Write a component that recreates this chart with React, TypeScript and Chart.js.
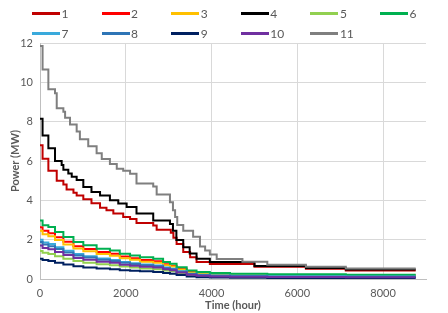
import React, { useEffect, useRef } from "react";
import { Chart, registerables } from "chart.js";

Chart.register(...registerables);

// ---- data ----
const seriesNames = ["1", "2", "3", "4", "5", "6", "7", "8", "9", "10", "11"];
const seriesColors = [
  "#C00000", "#FF0000", "#FFC000", "#000000", "#92D050", "#00B050",
  "#3AAADC", "#2E75B6", "#002060", "#7030A0", "#7F7F7F",
];

const xTicks = [0, 2000, 4000, 6000, 8000];
const yTicks = [0, 2, 4, 6, 8, 10, 12];

// series 11 (gray)
const s11Hours = [0, 60, 195, 350, 390, 545, 585, 700, 855, 930, 1125, 1320, 1440, 1630, 1790, 1940, 2100, 2250, 2640, 2720, 3030, 3100, 3150, 3200, 3340, 3570, 3730, 3850, 3960, 4120, 4720, 5300, 6200, 7130, 8760];
const s11Power = [11.85, 10.65, 9.65, 9.45, 8.68, 8.5, 8.2, 7.85, 7.5, 7.1, 6.75, 6.4, 6.1, 5.85, 5.6, 5.5, 5.35, 4.85, 4.7, 4.3, 3.9, 3.5, 3.15, 2.75, 2.45, 2.15, 1.65, 1.45, 1.25, 1.02, 0.88, 0.72, 0.62, 0.54, 0.54];

// series 4 (black)
const s4Hours = [0, 60, 195, 350, 505, 545, 660, 740, 855, 1010, 1200, 1400, 1630, 1825, 2020, 2250, 2640, 3030, 3100, 3180, 3340, 3490, 3650, 3960, 5000, 6200, 7130, 8760];
const s4Power = [8.15, 7.3, 6.65, 6.0, 5.8, 5.55, 5.37, 5.2, 5.03, 4.68, 4.43, 4.25, 4.0, 3.84, 3.66, 3.33, 2.98, 2.8, 2.45, 1.98, 1.62, 1.3, 1.03, 0.86, 0.66, 0.56, 0.48, 0.48];

// series 1 (dark red)
const s1Hours = [0, 60, 195, 390, 545, 620, 780, 855, 1010, 1200, 1400, 1550, 1710, 1940, 2100, 2250, 2640, 2720, 3050, 3110, 3185, 3340, 3500, 3650, 3960, 5000, 6200, 7130, 8760];
const s1Power = [6.8, 6.12, 5.5, 5.0, 4.8, 4.55, 4.38, 4.25, 4.05, 3.85, 3.62, 3.5, 3.33, 3.15, 3.05, 2.85, 2.72, 2.5, 2.35, 2.1, 1.78, 1.37, 1.11, 0.86, 0.76, 0.62, 0.52, 0.43, 0.43];

// low-power series share the same step hours
const lowHours = [0, 60, 195, 350, 545, 780, 1010, 1320, 1630, 1860, 2100, 2330, 2640, 2870, 3030, 3185, 3420, 3650, 3960, 4430, 5300, 7130, 8760];
const s2Power = [2.63, 2.45, 2.33, 2.12, 1.9, 1.67, 1.52, 1.37, 1.28, 1.14, 1.05, 0.96, 0.9, 0.75, 0.68, 0.52, 0.36, 0.29, 0.25, 0.22, 0.2, 0.18, 0.18];
const s3Power = [2.45, 2.28, 2.18, 1.98, 1.76, 1.55, 1.41, 1.27, 1.18, 1.06, 0.98, 0.88, 0.83, 0.7, 0.63, 0.48, 0.33, 0.26, 0.22, 0.2, 0.18, 0.16, 0.16];
const s5Power = [1.43, 1.33, 1.27, 1.16, 1.03, 0.91, 0.83, 0.75, 0.7, 0.63, 0.58, 0.54, 0.5, 0.43, 0.39, 0.3, 0.22, 0.18, 0.17, 0.16, 0.15, 0.14, 0.14];
const s6Power = [2.98, 2.73, 2.64, 2.39, 2.13, 1.88, 1.71, 1.54, 1.45, 1.29, 1.2, 1.11, 1.03, 0.86, 0.78, 0.6, 0.43, 0.35, 0.3, 0.27, 0.24, 0.21, 0.21];
const s7Power = [2.0, 1.86, 1.78, 1.62, 1.44, 1.27, 1.16, 1.04, 0.97, 0.87, 0.8, 0.74, 0.69, 0.58, 0.52, 0.4, 0.27, 0.21, 0.18, 0.16, 0.14, 0.13, 0.13];
const s8Power = [1.88, 1.75, 1.67, 1.52, 1.35, 1.19, 1.09, 0.98, 0.91, 0.82, 0.76, 0.7, 0.65, 0.55, 0.49, 0.37, 0.25, 0.19, 0.16, 0.14, 0.12, 0.11, 0.11];
const s9Power = [1.03, 0.96, 0.91, 0.83, 0.74, 0.65, 0.59, 0.53, 0.5, 0.45, 0.42, 0.39, 0.36, 0.3, 0.27, 0.2, 0.13, 0.09, 0.07, 0.06, 0.05, 0.05, 0.05];
const s10Power = [1.7, 1.58, 1.51, 1.37, 1.22, 1.07, 0.98, 0.88, 0.82, 0.73, 0.68, 0.62, 0.58, 0.49, 0.44, 0.33, 0.22, 0.16, 0.13, 0.11, 0.1, 0.09, 0.09];

const seriesHours = [s1Hours, lowHours, lowHours, s4Hours, lowHours, lowHours, lowHours, lowHours, lowHours, lowHours, s11Hours];
const seriesPower = [s1Power, s2Power, s3Power, s4Power, s5Power, s6Power, s7Power, s8Power, s9Power, s10Power, s11Power];

const FONT = "Lato, 'Open Sans', sans-serif";
const TEXT = "#595959";
const GRID = "#D9D9D9";

export default function App() {
  const canvasRef = useRef<HTMLCanvasElement | null>(null);

  useEffect(() => {
    const canvas = canvasRef.current;
    if (!canvas) return;
    const datasets = seriesNames.map((name, i) => ({
      label: name,
      data: seriesHours[i].map((h, k) => ({ x: h, y: seriesPower[i][k] })),
      borderColor: seriesColors[i],
      backgroundColor: seriesColors[i],
      borderWidth: 2,
      pointRadius: 0,
      stepped: "before" as const,
      fill: false,
      order: seriesNames.length - 1 - i,
    }));

    const chart = new Chart(canvas, {
      type: "line",
      data: { datasets },
      options: {
        animation: false,
        responsive: false,
        devicePixelRatio: 1,
        layout: { padding: { left: 6, right: 22, top: 43, bottom: 0 } },
        plugins: {
          legend: { display: false },
          tooltip: { enabled: false },
        },
        scales: {
          x: {
            type: "linear",
            min: 0,
            max: 9000,
            afterBuildTicks: (scale: any) => {
              scale.ticks = xTicks.map((v) => ({ value: v }));
            },
            afterFit: (scale: any) => {
              scale.height = 34;
            },
            grid: {
              color: (ctx: any) =>
                ctx.tick && xTicks.includes(ctx.tick.value) ? GRID : "rgba(0,0,0,0)",
              drawTicks: false,
              lineWidth: 1,
            },
            border: { color: "#BFBFBF", width: 1 },
            ticks: {
              color: TEXT,
              font: { family: FONT, size: 11 },
              padding: 8,
              maxRotation: 0,
              callback: (v: any) => String(v),
            },
            title: {
              display: true,
              text: "Time (hour)",
              color: TEXT,
              font: { family: FONT, size: 11, weight: "bold" },
              padding: { top: 0, bottom: 1 },
            },
          },
          y: {
            type: "linear",
            min: 0,
            max: 12,
            afterBuildTicks: (scale: any) => {
              scale.ticks = yTicks.map((v) => ({ value: v }));
            },
            afterFit: (scale: any) => {
              scale.width = 34;
            },
            grid: { color: GRID, drawTicks: false, lineWidth: 1 },
            border: { color: "#BFBFBF", width: 1 },
            ticks: {
              color: TEXT,
              font: { family: FONT, size: 11 },
              padding: 7,
              callback: (v: any) => String(v),
            },
            title: {
              display: true,
              text: "Power (MW)",
              color: TEXT,
              font: { family: FONT, size: 11, weight: "bold" },
              padding: { top: 3, bottom: 0 },
            },
          },
        },
      },
    });
    return () => chart.destroy();
  }, []);

  const legendItems = seriesNames.map((name, i) => {
    const col = i % 6;
    const row = Math.floor(i / 6);
    const left = 32 + col * 69.6;
    const cy = row === 0 ? 13.5 : 33.5;
    return (
      <div key={name}>
        <div
          style={{
            position: "absolute",
            left,
            top: cy - 1.5,
            width: 28,
            height: 3,
            background: seriesColors[i],
          }}
        />
        <div
          style={{
            position: "absolute",
            left: left + 29.5,
            top: cy - 8,
            height: 16,
            lineHeight: "16px",
            fontFamily: FONT,
            fontSize: 12,
            color: TEXT,
            whiteSpace: "nowrap",
          }}
        >
          {name}
        </div>
      </div>
    );
  });

  return (
    <div
      style={{
        position: "absolute",
        left: 0,
        top: 0,
        width: 448,
        height: 313,
        background: "#FFFFFF",
        overflow: "hidden",
      }}
    >
      <canvas ref={canvasRef} width={448} height={313} style={{ display: "block" }} />
      {legendItems}
    </div>
  );
}
